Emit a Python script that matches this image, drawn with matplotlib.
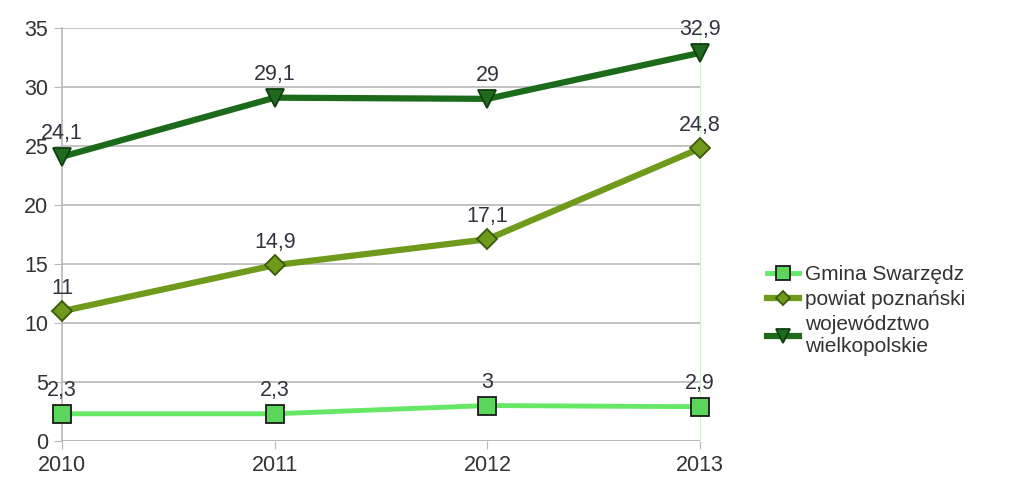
import matplotlib
matplotlib.use("Agg")
import matplotlib.pyplot as plt

years = ["2010", "2011", "2012", "2013"]
gmina = [2.3, 2.3, 3.0, 2.9]
powiat = [11.0, 14.9, 17.1, 24.8]
woj = [24.1, 29.1, 29.0, 32.9]
names = ["Gmina Swarzędz", "powiat poznański", "województwo\nwielkopolskie"]
yticks = [0, 5, 10, 15, 20, 25, 30, 35]

plt.rcParams['font.family'] = ['Liberation Sans', 'DejaVu Sans']

fig = plt.figure(figsize=(10.19, 4.84), dpi=100)
ax = fig.add_axes([0.061, 0.089, 0.626, 0.853])
x = list(range(len(years)))

series = [
    (gmina, "#66e866", "#5ad65a", "s", 13, "#1a1a1a", 3.5),
    (powiat, "#6f9a1c", "#6f9a1c", "D", 10, "#3a5a0a", 4.5),
    (woj, "#1b6b1b", "#1f6a1f", "v", 13, "#0f3f0f", 4.5),
]
for (vals, lc, mc, mk, ms, mec, lw), name in zip(series, names):
    ax.plot(x, vals, color=lc, lw=lw, marker=mk, markersize=ms,
            markerfacecolor=mc, markeredgecolor=mec, markeredgewidth=1.3,
            label=name, zorder=3, clip_on=False)
    for xi, v in zip(x, vals):
        s = ("%g" % v).replace(".", ",")
        ax.annotate(s, (xi, v), xytext=(0, 9), textcoords="offset points",
                    ha="center", va="bottom", fontsize=15.5, color="#333340", zorder=4)

ax.set_xlim(0, 3)
ax.set_ylim(0, 35)
ax.set_yticks(yticks)
ax.set_xticks(x)
ax.set_xticklabels(years)
ax.grid(axis="y", color="#b8b8b8", lw=1.2)
ax.set_axisbelow(True)
for sp in ["top", "bottom"]:
    ax.spines[sp].set_visible(False)
ax.spines["left"].set_color("#b8b8b8")
ax.spines["left"].set_linewidth(1.2)
ax.spines["right"].set_color("#d8f0d0")
ax.tick_params(axis="y", length=6, color="#b8b8b8", labelsize=15.5, labelcolor="#333333", pad=4)
ax.tick_params(axis="x", length=6, color="#b8b8b8", labelsize=15.5, labelcolor="#333333", pad=4, direction="out")
ax.axhline(0, color="#b8b8b8", lw=1.2, zorder=1)

leg = fig.legend(loc="upper left", bbox_to_anchor=(0.745, 0.47), frameon=False,
                 fontsize=15, handlelength=1.5, handletextpad=0.3, labelspacing=0.3,
                 borderaxespad=0, markerscale=0.75)
for t in leg.get_texts():
    t.set_color("#333333")

fig.savefig("out.png", dpi=100)
